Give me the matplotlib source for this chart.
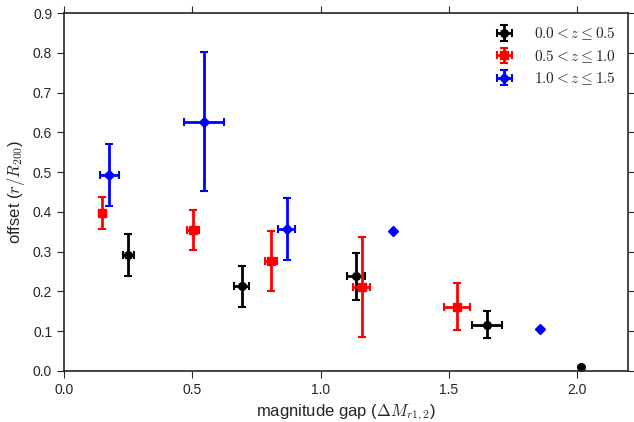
#!/usr/bin/env python3
# offset vs magnitude gap, split in redshift bins

import numpy as np
import seaborn as sns
from matplotlib import pyplot as plt

sns.set_style("ticks")
plt.rcParams.update({
    "font.family": ["Liberation Sans", "DejaVu Sans"],
    "mathtext.fontset": "cm",
})

labels = [r"$0.0 < z \leq 0.5$", r"$0.5 < z \leq 1.0$", r"$1.0 < z \leq 1.5$"]
colors = ["black", "red", "blue"]
markers = ["o", "s", "D"]

# bin 0.0 < z <= 0.5
x0 = [0.251, 0.693, 1.138, 1.649, 2.017]
y0 = [0.292, 0.213, 0.238, 0.116, 0.011]
xe0 = [0.021, 0.030, 0.036, 0.058, 0.0]
ye0 = [0.053, 0.051, 0.059, 0.034, 0.0]

# bin 0.5 < z <= 1.0
x1 = [0.147, 0.502, 0.807, 1.160, 1.533]
y1 = [0.397, 0.355, 0.277, 0.211, 0.162]
xe1 = [0.005, 0.023, 0.022, 0.034, 0.051]
ye1 = [0.040, 0.050, 0.076, 0.126, 0.058]

# bin 1.0 < z <= 1.5
x2 = [0.177, 0.545, 0.868, 1.284, 1.856]
y2 = [0.494, 0.627, 0.357, 0.353, 0.105]
xe2 = [0.038, 0.079, 0.033, 0.0, 0.0]
ye2 = [0.078, 0.175, 0.079, 0.0, 0.0]

xs = [x0, x1, x2]
ys = [y0, y1, y2]
xes = [xe0, xe1, xe2]
yes = [ye0, ye1, ye2]

fig = plt.figure(figsize=(6.34, 4.22), dpi=100)
ax = fig.add_axes([0.101, 0.121, 0.890, 0.848])

for x, y, xe, ye, c, m, lab in zip(xs, ys, xes, yes, colors, markers, labels):
    ax.errorbar(x, y, xerr=xe, yerr=ye, fmt=m, color=c, ecolor=c,
                markersize=5.5, elinewidth=2, capsize=3, capthick=1.5,
                mec=c, label=lab)

ax.set_xlim(0, 2.2)
ax.set_ylim(0, 0.9)
ax.set_xticks(np.arange(0, 2.01, 0.5))
ax.set_yticks(np.arange(0, 0.91, 0.1))
ax.tick_params(top=True, right=True, direction="out", labelsize=10,
               colors="#262626", length=5)
for s in ax.spines.values():
    s.set_color("#262626")
    s.set_linewidth(1.2)

ax.set_xlabel(r"magnitude gap ($\Delta M_{r1,2}$)", fontsize=12)
ax.set_ylabel(r"offset ($r/R_{200}$)", fontsize=12)

ax.legend(loc="upper right", frameon=False, fontsize=11, handlelength=1.1,
          handletextpad=1.4, labelspacing=0.35, borderaxespad=0.4)

fig.savefig("out.png", dpi=100)
